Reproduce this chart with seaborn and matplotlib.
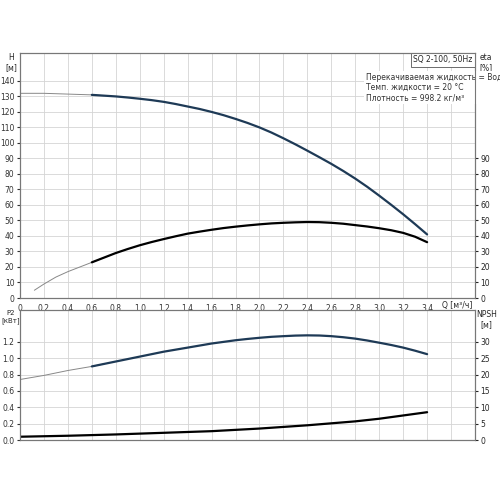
import matplotlib
matplotlib.use("Agg")
import matplotlib.pyplot as plt
import numpy as np
import seaborn as sns

sns.set_style("white")
plt.rcParams['font.family'] = ['DejaVu Sans']

q = [0, 0.2, 0.4, 0.6, 0.7, 0.8, 0.9, 1.0, 1.1, 1.2, 1.3, 1.4, 1.5, 1.6, 1.7, 1.8, 1.9, 2.0, 2.1, 2.2, 2.3,
     2.4, 2.5, 2.6, 2.7, 2.8, 2.9, 3.0, 3.1, 3.2, 3.3, 3.4]
head = [132, 132, 131.5, 131, 130.5, 130, 129.3, 128.5, 127.6, 126.5, 125.1, 123.5, 121.9, 120, 117.9, 115.5,
        112.9, 110, 106.7, 103, 99.1, 95, 90.8, 86.5, 81.9, 77, 71.7, 66, 60.1, 54, 47.6, 41]
q_eta = [0.12, 0.2, 0.3, 0.4, 0.5, 0.6, 0.7, 0.8, 0.9, 1.0, 1.1, 1.2, 1.3, 1.4, 1.5, 1.6, 1.7, 1.8, 1.9, 2.0,
         2.1, 2.2, 2.3, 2.4, 2.5, 2.6, 2.7, 2.8, 2.9, 3.0, 3.1, 3.2, 3.3, 3.4]
eta = [5, 9, 13.5, 17, 20, 23, 26, 29, 31.6, 34, 36.1, 38, 39.8, 41.5, 42.8, 44, 45.1, 46, 46.8, 47.5,
       48.1, 48.5, 48.8, 49, 48.9, 48.5, 47.9, 47, 46.1, 45, 43.7, 42, 39.5, 36]
p2 = [0.74, 0.79, 0.85, 0.9, 0.93, 0.96, 0.99, 1.02, 1.05, 1.08, 1.105, 1.13, 1.155, 1.18, 1.2, 1.22,
      1.236, 1.25, 1.262, 1.27, 1.277, 1.28, 1.278, 1.27, 1.257, 1.24, 1.217, 1.19, 1.162, 1.13, 1.092, 1.05]
q_npsh = [0, 0.4, 0.8, 1.2, 1.6, 2.0, 2.2, 2.4, 2.6, 2.8, 3.0, 3.2, 3.4]
npsh = [1.0, 1.3, 1.7, 2.2, 2.7, 3.5, 4.0, 4.5, 5.1, 5.7, 6.5, 7.5, 8.5]

blue = '#1e3a56'
grid = '#d4d4d4'
fs = 5.5
q_split = 0.65

fig = plt.figure(figsize=(5, 5), dpi=100)
ax1 = fig.add_axes([0.04, 0.404, 0.91, 0.49])
ax2 = fig.add_axes([0.04, 0.12, 0.91, 0.26])


def split_plot(ax, x, y, color):
    x = np.array(x); y = np.array(y)
    lo = x <= q_split + 0.06
    hi = x >= q_split - 0.06
    sns.lineplot(x=x[lo], y=y[lo], ax=ax, color='#888888', lw=0.7)
    sns.lineplot(x=x[hi], y=y[hi], ax=ax, color=color, lw=1.6)


split_plot(ax1, q, head, blue)
split_plot(ax1, q_eta, eta, 'black')
split_plot(ax2, q, p2, blue)
sns.lineplot(x=q_npsh, y=np.array(npsh) / 25, ax=ax2, color='black', lw=1.6)

xt = np.arange(0, 3.81, 0.2)
for ax, ymax, yt in [(ax1, 158, np.arange(0, 141, 10)), (ax2, 1.59, np.arange(0, 1.21, 0.2))]:
    ax.set_xlim(0, 3.74)
    ax.set_ylim(0, ymax)
    ax.set_xticks(xt)
    ax.set_yticks(yt)
    ax.grid(True, color=grid, lw=0.6)
    ax.tick_params(labelsize=fs, length=2, pad=2, colors='#333333')
    for s in ax.spines.values():
        s.set_color('#777777'); s.set_linewidth(0.8)

ax1.set_xticklabels(['0'] + [f'{v:.1f}' if v < 3.5 else '' for v in xt[1:]])
ax1.set_yticklabels([str(int(v)) for v in np.arange(0, 141, 10)])
ax2.set_xticklabels([])
ax2.set_yticklabels([f'{v:.1f}' for v in np.arange(0, 1.21, 0.2)])

r1 = ax1.twinx()
r1.set_ylim(0, 158)
r1.set_yticks(np.arange(0, 91, 10))
r1.tick_params(labelsize=fs, length=2, pad=2)
r2 = ax2.twinx()
r2.set_ylim(0, 1.59 * 25)
r2.set_yticks(np.arange(0, 31, 5))
r2.tick_params(labelsize=fs, length=2, pad=2)
for r in (r1, r2):
    for s in r.spines.values():
        s.set_color('#777777'); s.set_linewidth(0.8)

ax1.text(-0.02, 1.0, 'H\n[м]', transform=ax1.transAxes, fontsize=fs, ha='center', va='top')
ax1.text(1.025, 1.0, 'eta\n[%]', transform=ax1.transAxes, fontsize=fs, ha='center', va='top')
ax1.text(0.995, -0.012, 'Q [м³/ч]', transform=ax1.transAxes, fontsize=fs, ha='right', va='top')
ax2.text(-0.02, 1.0, 'P2\n[кВт]', transform=ax2.transAxes, fontsize=5, ha='center', va='top')
ax2.text(1.025, 1.0, 'NPSH\n[м]', transform=ax2.transAxes, fontsize=fs, ha='center', va='top')
ax1.text(0.995, 0.99, 'SQ 2-100, 50Hz', transform=ax1.transAxes, fontsize=fs, ha='right', va='top',
         bbox=dict(facecolor='white', edgecolor='#555555', lw=0.6, pad=1.5))
ax1.text(0.99, 0.92, 'Перекачиваемая жидкость = Вода\nТемп. жидкости = 20 °C\nПлотность = 998.2 кг/м³',
         transform=ax1.transAxes, fontsize=fs, ha='left', va='top', color='#333333',
         bbox=dict(facecolor='white', edgecolor='none', pad=1))
ax1.texts[-1].set_x(0.76)

fig.savefig('out.png', dpi=100)
